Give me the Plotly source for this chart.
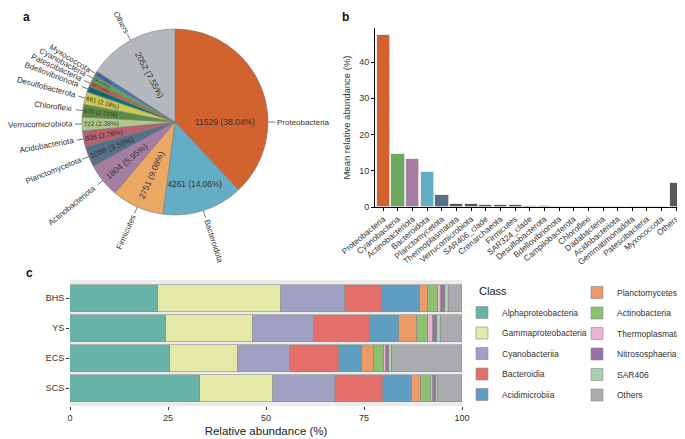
import math
import plotly.graph_objects as go

FONT = "Liberation Sans, Arial, sans-serif"
OFF = 8                      # page body margin in the browser
W, H = 685 - OFF, 439 - OFF  # figure size so that it fills the window


def PX(px):
    return (px - OFF) / W


def PY(py):
    return 1 - (py - OFF) / H


# ---------------- Panel a data ----------------
phyla = ["Proteobacteria", "Bacteroidota", "Firmicutes", "Actinobacteriota",
         "Planctomycetota", "Acidobacteriota", "Verrucomicrobiota", "Chloroflexi",
         "Desulfobacterota", "Bdellovibrionota", "Patescibacteria", "Cyanobacteria",
         "Myxococcota", "Others"]
phyla_counts = [11529, 4261, 2751, 1804, 1088, 836, 722, 670, 661, 320, 305, 290, 270, 4800]
phyla_text = ["11529 (38.04%)", "4261 (14.06%)", "2751 (9.08%)", "1804 (5.95%)",
              "1088 (3.59%)", "836 (2.76%)", "722 (2.38%)", "670 (2.21%)",
              "661 (2.18%)", "320 (1.06%)", "305 (1.01%)", "290 (0.96%)",
              "270 (0.89%)", "2052 (7.55%)"]
phyla_colors = ["#D2622E", "#63AEC5", "#EBA865", "#A77EA3", "#56708A", "#B86070",
                "#B2C88A", "#5B8C45", "#C9CC50", "#10707F", "#B0683E", "#5EA65A",
                "#4A73B8", "#B4B8BC"]

# ---------------- Panel b data ----------------
b_cats = ["Proteobacteria", "Cyanobacteria", "Actinobacteriota", "Bacteroidota",
          "Planctomycetota", "Thermoplasmatota", "Verrucomicrobiota", "SAR406_clade",
          "Crenarchaeota", "Firmicutes", "SAR324_clade", "Desulfobacterota",
          "Bdellovibrionota", "Campilobacterota", "Chloroflexi", "Dadabacteria",
          "Acidobacteriota", "Gemmatimonadota", "Patescibacteria", "Myxococcota", "Others"]
b_vals = [47.5, 14.6, 13.2, 9.6, 3.3, 0.85, 0.8, 0.65, 0.65, 0.65, 0.35, 0.15,
          0.12, 0.1, 0.08, 0.05, 0.04, 0.03, 0.03, 0.02, 6.5]
b_colors = ["#D2622E", "#6BAA5E", "#A77EA3", "#63AEC5", "#56708A"] + ["#505558"] * 15 + ["#55595C"]

# ---------------- Panel c data ----------------
sites = ["BHS", "YS", "ECS", "SCS"]
classes = ["Alphaproteobacteria", "Gammaproteobacteria", "Cyanobacteriia", "Bacteroidia",
           "Acidimicrobiia", "Planctomycetes", "Actinobacteria", "Thermoplasmata",
           "Nitrososphaeria", "SAR406", "Others"]
class_vals = {
    "Alphaproteobacteria": [22.5, 24.5, 25.5, 33.1],
    "Gammaproteobacteria": [31.3, 22.3, 17.4, 18.7],
    "Cyanobacteriia":      [16.4, 15.5, 13.1, 15.7],
    "Bacteroidia":         [9.3, 14.2, 12.7, 12.4],
    "Acidimicrobiia":      [9.7, 7.3, 5.9, 7.3],
    "Planctomycetes":      [2.2, 4.6, 3.0, 2.3],
    "Actinobacteria":      [2.6, 3.0, 2.4, 2.5],
    "Thermoplasmata":      [0.6, 1.1, 0.6, 0.5],
    "Nitrososphaeria":     [1.1, 1.2, 0.8, 0.8],
    "SAR406":              [0.9, 0.9, 0.7, 0.7],
    "Others":              [3.4, 5.4, 17.9, 6.0],
}
class_colors = ["#67B3A8", "#E5E9A8", "#A0A0C4", "#E46F6A", "#5F9DC2", "#EC9B66",
                "#8DC071", "#EBB5D1", "#9A70A8", "#A8D1B4", "#A9ABAE"]

fig = go.Figure()

# ---------- Panel a: pie ----------
cx, cy, R = 175, 122, 93
pie_dom_x = [PX(cx - R), PX(cx + R)]
pie_dom_y = [PY(cy + R), PY(cy - R)]
horiz = {"Bacteroidota"}
manual = {"Proteobacteria"}
text_radial = ["" if (p in horiz or p in manual) else t for p, t in zip(phyla, phyla_text)]
text_horiz = [t if p in horiz else "" for p, t in zip(phyla, phyla_text)]

fig.add_trace(go.Pie(
    labels=phyla, values=phyla_counts, sort=False, direction="clockwise", rotation=0,
    marker=dict(colors=phyla_colors, line=dict(color="#7A7A7A", width=0.6)),
    text=text_radial, textinfo="text", textposition="inside",
    insidetextorientation="radial",
    insidetextfont=dict(family=FONT, size=8.5, color="#333333"),
    domain=dict(x=pie_dom_x, y=pie_dom_y), showlegend=False, hoverinfo="label+value",
))
fig.add_trace(go.Pie(
    labels=phyla, values=phyla_counts, sort=False, direction="clockwise", rotation=0,
    marker=dict(colors=["rgba(0,0,0,0)"] * len(phyla), line=dict(width=0)),
    text=text_horiz, textinfo="text", textposition="inside",
    insidetextorientation="horizontal",
    insidetextfont=dict(family=FONT, size=8.5, color="#333333"),
    domain=dict(x=pie_dom_x, y=pie_dom_y), showlegend=False, hoverinfo="skip",
))

# hidden overlay axes (unit = pie radius) for leader lines and labels
ov_px_x = [OFF, 345]
ov_px_y = [OFF, 270]
x3_range = [(ov_px_x[0] - cx) / R, (ov_px_x[1] - cx) / R]
y3_range = [(cy - ov_px_y[1]) / R, (cy - ov_px_y[0]) / R]
x3_dom = [PX(ov_px_x[0]), PX(ov_px_x[1])]
y3_dom = [PY(ov_px_y[1]), PY(ov_px_y[0])]

total = sum(phyla_counts)
cum = 0
lx, ly = [], []
label_angle_override = {"Proteobacteria": 90.0}
for name, v, txt in zip(phyla, phyla_counts, phyla_text):
    mid = (cum + v / 2) / total * 360.0
    cum += v
    theta = label_angle_override.get(name, mid)
    t = math.radians(theta)
    dx, dy = math.sin(t), math.cos(t)
    lx += [dx * 1.0, dx * 1.075, None]
    ly += [dy * 1.0, dy * 1.075, None]
    wpx = len(name) * 3.9
    r = 1.09 + (wpx / 2) / R
    ang = theta - 90 if theta <= 180 else theta - 270
    fig.add_annotation(x=dx * r, y=dy * r, xref="x3", yref="y3", text=name,
                       textangle=ang, showarrow=False, xanchor="center", yanchor="middle",
                       font=dict(family=FONT, size=8.0, color="#333333"))
    if name in manual:
        fig.add_annotation(x=dx * 0.54, y=dy * 0.54, xref="x3", yref="y3", text=txt,
                           showarrow=False, xanchor="center", yanchor="middle",
                           font=dict(family=FONT, size=8.5, color="#333333"))
fig.add_trace(go.Scatter(x=lx, y=ly, mode="lines", xaxis="x3", yaxis="y3",
                         line=dict(color="#555555", width=0.8), showlegend=False,
                         hoverinfo="skip"))

# ---------- Panel b: bars ----------
fig.add_trace(go.Bar(x=b_cats, y=b_vals, marker=dict(color=b_colors, line=dict(color="#E6E6E6", width=0.8)),
                     width=0.9, xaxis="x", yaxis="y", showlegend=False))

# ---------- Panel c: stacked bars ----------
for i, (cl, col) in enumerate(zip(classes, class_colors)):
    fig.add_trace(go.Bar(
        y=sites, x=class_vals[cl], orientation="h", name=cl,
        marker=dict(color=col, line=dict(color="#8C8C8C", width=0.6)),
        width=0.9, xaxis="x2", yaxis="y2", legendgroup=cl,
        legend="legend" if i < 5 else "legend2",
    ))

axis_font = dict(family=FONT, size=9, color="#333333")
leg_common = dict(xanchor="left", yanchor="top", xref="container", yref="container",
                  traceorder="grouped", tracegroupgap=1.5, bgcolor="rgba(0,0,0,0)",
                  font=dict(family=FONT, size=8.5, color="#333333"))
fig.update_layout(
    width=W, height=H, margin=dict(l=0, r=0, t=0, b=0, autoexpand=False),
    paper_bgcolor="white", plot_bgcolor="white",
    font=dict(family=FONT, color="#333333"),
    barmode="stack", bargap=0,
    xaxis=dict(domain=[PX(375), 1.0], range=[-0.57, 20.6], tickangle=-40,
               tickfont=dict(family=FONT, size=8.3, color="#333333"),
               showline=True, linecolor="black", linewidth=1, ticks="outside",
               ticklen=3, tickcolor="black", showgrid=False, zeroline=False),
    yaxis=dict(domain=[PY(207), PY(28)], range=[0, 49.4],
               tickvals=[0, 10, 20, 30, 40], tickfont=axis_font,
               showline=True, linecolor="black", linewidth=1, ticks="outside",
               ticklen=3, tickcolor="black", showgrid=False, zeroline=False,
               title=dict(text="Mean relative abundance (%)", font=dict(family=FONT, size=9.5, color="#333333"),
                          standoff=6)),
    xaxis2=dict(domain=[PX(70), PX(462)], range=[0, 100], anchor="y2",
                tickvals=[0, 25, 50, 75, 100], tickfont=axis_font,
                ticks="outside", ticklen=3, tickcolor="#333333", showgrid=False,
                zeroline=False, showline=False,
                title=dict(text="Relative abundance (%)", font=dict(family=FONT, size=11.5, color="#222222"),
                           standoff=5)),
    yaxis2=dict(domain=[PY(406), PY(280)], anchor="x2",
                categoryorder="array", categoryarray=sites[::-1], range=[-0.6, 3.6],
                tickfont=axis_font, ticks="outside", ticklen=3, tickcolor="#333333",
                showgrid=False, zeroline=False, showline=False),
    xaxis3=dict(domain=x3_dom, range=x3_range, visible=False, anchor="y3", fixedrange=True),
    yaxis3=dict(domain=y3_dom, range=y3_range, visible=False, anchor="x3", fixedrange=True),
    legend=dict(x=PX(462), y=PY(298), **leg_common),
    legend2=dict(x=PX(577), y=PY(278), **leg_common),
)

fig.add_shape(type="rect", xref="x2 domain", yref="y2 domain", x0=0, x1=1, y0=0, y1=1,
              fillcolor="#EBEBEB", line=dict(width=0), layer="below")

# panel letters and legend title
for txt, px, py in [("a", 26, 17), ("b", 345, 17), ("c", 29, 273)]:
    fig.add_annotation(x=PX(px), y=PY(py), xref="paper", yref="paper", text=f"<b>{txt}</b>",
                       xanchor="center", yanchor="middle",
                       showarrow=False, font=dict(family=FONT, size=12, color="#111111"))
fig.add_annotation(x=PX(477), y=PY(291), xref="paper", yref="paper", text="Class",
                   xanchor="left", yanchor="middle", showarrow=False,
                   font=dict(family=FONT, size=11, color="#222222"))

fig.write_html("out.html")
